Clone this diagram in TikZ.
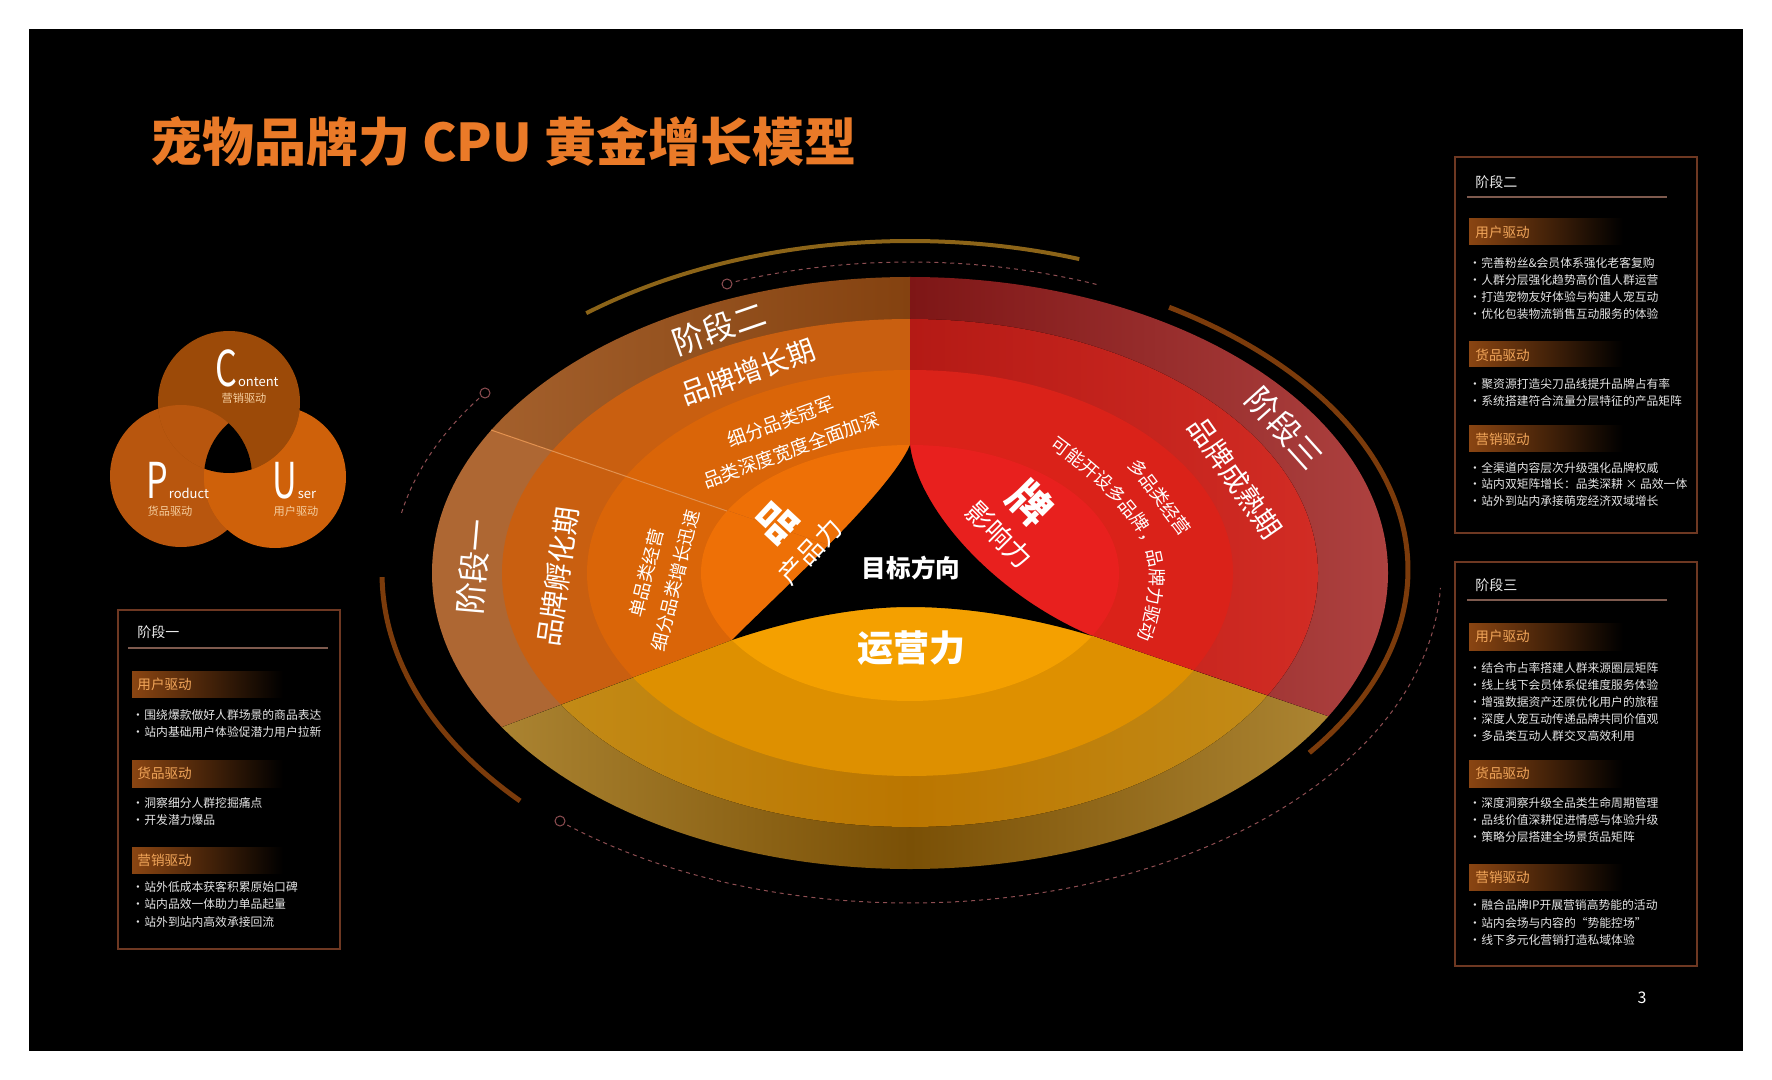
\documentclass[tikz,border=0pt]{standalone}
\usepackage{fontspec}
\setmainfont{Noto Sans CJK SC}
\usetikzlibrary{positioning,decorations.text}

\definecolor{titleorange}{HTML}{EA7A28}
\definecolor{panelline}{HTML}{6E3822}
\definecolor{panelsep}{HTML}{7E5A4E}
\definecolor{barbrown}{HTML}{8A4512}
\definecolor{bartext}{HTML}{F2A65A}
\definecolor{itemtext}{HTML}{E4E4E4}
\definecolor{vennc}{HTML}{9C4A08}
\definecolor{vennp}{HTML}{B8560E}
\definecolor{vennu}{HTML}{CF610A}
\definecolor{venncn}{HTML}{F6CFA0}
\definecolor{stageoneA}{HTML}{AE6733}
\definecolor{stagetwoA}{HTML}{A86430}
\definecolor{stagetwoB}{HTML}{844210}
\definecolor{orangeB}{HTML}{C95F10}
\definecolor{orangeC}{HTML}{DA6508}
\definecolor{orangeD}{HTML}{EE7006}
\definecolor{redA}{HTML}{7E1616}
\definecolor{redAA}{HTML}{AE4240}
\definecolor{redB}{HTML}{B41A15}
\definecolor{redBB}{HTML}{D22C24}
\definecolor{redC}{HTML}{DA2219}
\definecolor{redD}{HTML}{E8201E}
\definecolor{goldA}{HTML}{B38C38}
\definecolor{goldAA}{HTML}{7A5006}
\definecolor{goldB}{HTML}{C48E1A}
\definecolor{goldBB}{HTML}{BB7600}
\definecolor{goldC}{HTML}{DE9000}
\definecolor{goldD}{HTML}{F4A000}
\definecolor{arcgold}{HTML}{8C6418}
\definecolor{arcbrown}{HTML}{7B3B0B}
\definecolor{dashpink}{HTML}{8E4E52}
\definecolor{stageline}{HTML}{E39250}

% the four rings of one sector, outside in
\newcommand{\ringset}[4]{%
  \fill[#1] (ctr) ellipse [x radius=478, y radius=296];
  \fill[#2] (ctr) ellipse [x radius=408, y radius=254];
  \fill[#3] (ctr) ellipse [x radius=323, y radius=203];
  \fill[#4] (ctr) ellipse [x radius=209, y radius=128];}
% narrow bullet for the panel lists
\newcommand{\dotmark}{\makebox[0.6em][c]{•}\hspace{0.25em}}
% tall capital of the C-P-U circles
\newcommand{\tallcap}[1]{\scalebox{0.9}[1.3]{#1}}

\begin{document}
\begin{tikzpicture}[
    x=0.5pt, y=-0.5pt,
    paneltitle/.style={anchor=west, inner sep=0pt, text=white!92!black, font=\fontsize{7}{8}\selectfont},
    bartitle/.style={anchor=west, inner sep=0pt, text=bartext, font=\fontsize{6.8}{8}\selectfont},
    itemtxt/.style={anchor=west, inner sep=0pt, text=itemtext, font=\fontsize{5.9}{7}\selectfont},
    panelbox/.style={draw=panelline, line width=0.6pt},
    panelrule/.style={draw=panelsep, line width=0.75pt},
    barshade/.style={left color=barbrown, right color=black},
    ringlbl/.style={text=white, inner sep=0pt},
    dashline/.style={draw=dashpink, line width=0.5pt, dash pattern=on 2pt off 2pt},
    ringdot/.style={draw=dashpink, line width=0.5pt, fill=black},
    venntxt/.style={text=white, inner sep=0pt, anchor=base west},
    venncap/.style={text=venncn, inner sep=0pt, font=\fontsize{5.6}{6}\selectfont}
]
    \useasboundingbox (0,0) rectangle (1772,1080);
    \fill[white] (0,0) rectangle (1772,1080);
    \fill[black] (29,29) rectangle (1743,1051);

    % title
    \node[anchor=west, inner sep=0pt, text=titleorange, font=\fontsize{26}{28}\selectfont\bfseries] (title) at (150,142) {宠物品牌力 CPU 黄金增长模型};

    % C-P-U circles
    \fill[vennp] (181,476) circle [radius=71];
    \fill[vennu] (275,477) circle [radius=71];
    \fill[vennc] (229,402) circle [radius=71];
    \begin{scope}
        \clip (229,402) circle [radius=71];
        \fill[vennp] (181,476) circle [radius=71];
    \end{scope}
    \begin{scope}
        \clip (275,477) circle [radius=71];
        \fill[vennc] (229,402) circle [radius=71];
    \end{scope}
    \begin{scope}
        \clip (181,476) circle [radius=71];
        \fill[vennu] (275,477) circle [radius=71];
    \end{scope}
    \begin{scope}
        \clip (229,402) circle [radius=71];
        \clip (181,476) circle [radius=71];
        \fill[black] (275,477) circle [radius=71];
    \end{scope}
    \node[venntxt, font=\fontsize{19}{19}\selectfont] (cbig) at (215,387) {\tallcap{C}};
    \node[venntxt, font=\fontsize{6.5}{7}\selectfont] (csmall) at (cbig.base east) {ontent};
    \node[venncap] (cdrive) at (244,398) {营销驱动};
    \node[venntxt, font=\fontsize{19}{19}\selectfont] (pbig) at (146,498) {\tallcap{P}};
    \node[venntxt, font=\fontsize{6.5}{7}\selectfont] (psmall) at (pbig.base east) {roduct};
    \node[venncap] (pdrive) at (170,511) {货品驱动};
    \node[venntxt, font=\fontsize{19}{19}\selectfont] (ubig) at (272,498) {\tallcap{U}};
    \node[venntxt, font=\fontsize{6.5}{7}\selectfont] (usmall) at (ubig.base east) {ser};
    \node[venncap] (udrive) at (296,511) {用户驱动};

    % decorative arcs and dashed tracks
    \draw[arcgold, line width=2pt] (910,573) ++(-128.5:520 and 332) arc[start angle=-128.5, end angle=-71, x radius=520, y radius=332];
    \draw[arcbrown, line width=2.5pt] (880,570) ++(-56.8:528 and 314) arc[start angle=-56.8, end angle=35.6, x radius=528, y radius=314];
    \draw[arcbrown, line width=2.5pt] (910,573) ++(179.3:528 and 338) arc[start angle=179.3, end angle=137.6, x radius=528, y radius=338];
    \draw[dashline] (910,573) ++(-110.4:500 and 311) arc[start angle=-110.4, end angle=-68, x radius=500, y radius=311];
    \draw[ringdot] (727,284) circle [radius=5];
    \draw[dashline] (910,573) ++(-146.3:518 and 315) arc[start angle=-146.3, end angle=-169, x radius=518, y radius=315];
    \draw[ringdot] (485,393) circle [radius=5];
    \draw[dashline] (910,573) ++(130.2:531 and 330) arc[start angle=130.2, end angle=2.6, x radius=531, y radius=330];
    \draw[ringdot] (560,821) circle [radius=5];

    % the ellipse, cut into sectors
    \coordinate (ctr) at (910,573);
    \coordinate (farup) at (910,-60);
    \coordinate (farlt) at (84,291);
    \coordinate (farlb) at (84,885);
    \coordinate (farrt) at (1734,855);
    \begin{scope}
        \clip (ctr) -- (farup) -- (-60,-60) -- (farlt) -- cycle;
        \ringset{left color=stagetwoA, right color=stagetwoB, middle color=stagetwoB}{orangeB}{orangeC}{orangeD}
    \end{scope}
    \begin{scope}
        \clip (ctr) -- (farlt) -- (farlb) -- cycle;
        \ringset{stageoneA}{orangeB}{orangeC}{orangeD}
    \end{scope}
    \begin{scope}
        \clip (ctr) -- (farlb) -- (84,1120) -- (1734,1120) -- (farrt) -- cycle;
        \ringset{left color=goldA, right color=goldA, middle color=goldAA}{left color=goldB, right color=goldB, middle color=goldBB}{goldC}{goldD}
    \end{scope}
    \begin{scope}
        \clip (ctr) -- (farrt) -- (1734,-60) -- (farup) -- cycle;
        \ringset{left color=redA, right color=redAA, middle color=redA}{left color=redB, right color=redBB, middle color=redB}{redC}{redD}
    \end{scope}
    \coordinate (sepout) at (491,430);
    \coordinate (sepin) at (727,511);
    \draw[stageline, line width=0.5pt] (sepout) -- (sepin);

    % target triangle
    \coordinate (apex) at (910,445);
    \coordinate (petL) at (732,640);
    \coordinate (petR) at (1092,636);
    \coordinate (domeTop) at (910,607);
    \fill[black] (apex) .. controls (890,492) and (780,592) .. (petL)
        .. controls (770,627) and (840,607) .. (domeTop)
        .. controls (980,607) and (1050,623) .. (petR)
        .. controls (995,595) and (918,510) .. (apex) -- cycle;

    % ring labels
    \node[ringlbl, rotate=19, font=\fontsize{16}{16}\selectfont] (stagetwo) at (719,328) {阶段二};
    \node[ringlbl, rotate=20, font=\fontsize{14}{14}\selectfont] (growth) at (748,372) {品牌增长期};
    \node[ringlbl, rotate=20, align=center, font=\fontsize{9.3}{15}\selectfont] (growthsub) at (786,436) {细分品类冠军\\品类深度宽度全面加深};
    \node[ringlbl, rotate=85, font=\fontsize{16}{16}\selectfont] (stageone) at (474,567) {阶段一};
    \node[ringlbl, rotate=82, font=\fontsize{14}{14}\selectfont] (incubate) at (558,577) {品牌孵化期};
    \node[ringlbl, rotate=76, align=center, font=\fontsize{9}{15}\selectfont] (incubsub) at (661,577) {单品类经营\\细分品类增长迅速};
    \node[ringlbl, rotate=47, font=\fontsize{20}{20}\selectfont\bfseries] (pinbig) at (777,522) {品};
    \node[ringlbl, rotate=47, font=\fontsize{13}{13}\selectfont] (pinsub) at (810,551) {产品力};
    \node[ringlbl, rotate=-45, font=\fontsize{21}{21}\selectfont\bfseries] (paibig) at (1031,503) {牌};
    \node[ringlbl, rotate=-45, font=\fontsize{13.5}{14}\selectfont] (paisub) at (999,535) {影响力};
    \node[ringlbl, rotate=-48, font=\fontsize{16}{16}\selectfont] (stagethree) at (1285,428) {阶段三};
    \node[ringlbl, rotate=-55, font=\fontsize{14}{14}\selectfont] (mature) at (1235,478) {品牌成熟期};
    \node[ringlbl, rotate=-53, font=\fontsize{9}{9}\selectfont] (multi) at (1160,497) {多品类经营};
    \path[decorate, decoration={text along path, text align=center,
        text={|\fontsize{9}{9}\selectfont\color{white}|可能开设多品牌，品牌力驱动}}]
        (1038,438) .. controls (1108,488) and (1152,530) .. (1150,580) .. controls (1149,605) and (1143,628) .. (1132,652);
    \node[ringlbl, font=\fontsize{12.3}{13}\selectfont\bfseries] (goal) at (911,568) {目标方向};
    \node[ringlbl, font=\fontsize{18}{18}\selectfont\bfseries] (ops) at (911,648) {运营力};

    % panel: stage one
    \draw[panelbox] (118,610) rectangle (340,949);
    \node[paneltitle] (pAtitle) at (137,632) {阶段一};
    \draw[panelrule] (128,648) -- (328,648);
    \shade[barshade] (132,671) rectangle (283,697);
    \node[bartitle] (pAuser) at (137,684) {用户驱动};
    \foreach \txt [count=\i from 0] in {围绕爆款做好人群场景的商品表达, 站内基础用户体验促潜力用户拉新}
        \node[itemtxt] (pAu\i) at (134,715+17.5*\i) {\dotmark\txt};
    \shade[barshade] (132,760) rectangle (283,787);
    \node[bartitle] (pAgoods) at (137,773) {货品驱动};
    \foreach \txt [count=\i from 0] in {洞察细分人群挖掘痛点, 开发潜力爆品}
        \node[itemtxt] (pAg\i) at (134,803+17.5*\i) {\dotmark\txt};
    \shade[barshade] (132,847) rectangle (283,873);
    \node[bartitle] (pAmkt) at (137,860) {营销驱动};
    \foreach \txt [count=\i from 0] in {站外低成本获客积累原始口碑, 站内品效一体助力单品起量, 站外到站内高效承接回流}
        \node[itemtxt] (pAm\i) at (134,887+17.5*\i) {\dotmark\txt};

    % panel: stage two
    \draw[panelbox] (1455,157) rectangle (1697,533);
    \node[paneltitle] (pBtitle) at (1475,182) {阶段二};
    \draw[panelrule] (1467,197) -- (1667,197);
    \shade[barshade] (1469,219) rectangle (1623,245);
    \node[bartitle] (pBuser) at (1475,232) {用户驱动};
    \foreach \txt [count=\i from 0] in {完善粉丝\&会员体系强化老客复购, 人群分层强化趋势高价值人群运营, 打造宠物友好体验与构建人宠互动, 优化包装物流销售互动服务的体验}
        \node[itemtxt] (pBu\i) at (1471,263+17*\i) {\dotmark\txt};
    \shade[barshade] (1469,342) rectangle (1623,367);
    \node[bartitle] (pBgoods) at (1475,355) {货品驱动};
    \foreach \txt [count=\i from 0] in {聚资源打造尖刀品线提升品牌占有率, 系统搭建符合流量分层特征的产品矩阵}
        \node[itemtxt] (pBg\i) at (1471,384+17*\i) {\dotmark\txt};
    \shade[barshade] (1469,426) rectangle (1623,452);
    \node[bartitle] (pBmkt) at (1475,439) {营销驱动};
    \foreach \txt [count=\i from 0] in {全渠道内容层次升级强化品牌权威, 站内双矩阵增长：品类深耕 × 品效一体, 站外到站内承接萌宠经济双域增长}
        \node[itemtxt] (pBm\i) at (1471,468+16.5*\i) {\dotmark\txt};

    % panel: stage three
    \draw[panelbox] (1455,562) rectangle (1697,966);
    \node[paneltitle] (pCtitle) at (1475,585) {阶段三};
    \draw[panelrule] (1467,600) -- (1667,600);
    \shade[barshade] (1469,623) rectangle (1623,650);
    \node[bartitle] (pCuser) at (1475,636) {用户驱动};
    \foreach \txt [count=\i from 0] in {结合市占率搭建人群来源圈层矩阵, 线上线下会员体系促维度服务体验, 增强数据资产还原优化用户的旅程, 深度人宠互动传递品牌共同价值观, 多品类互动人群交叉高效利用}
        \node[itemtxt] (pCu\i) at (1471,668+17*\i) {\dotmark\txt};
    \shade[barshade] (1469,760) rectangle (1623,787);
    \node[bartitle] (pCgoods) at (1475,773) {货品驱动};
    \foreach \txt [count=\i from 0] in {深度洞察升级全品类生命周期管理, 品线价值深耕促进情感与体验升级, 策略分层搭建全场景货品矩阵}
        \node[itemtxt] (pCg\i) at (1471,803+17*\i) {\dotmark\txt};
    \shade[barshade] (1469,864) rectangle (1623,890);
    \node[bartitle] (pCmkt) at (1475,877) {营销驱动};
    \foreach \txt [count=\i from 0] in {融合品牌IP开展营销高势能的活动, 站内会场与内容的“势能控场”, 线下多元化营销打造私域体验}
        \node[itemtxt] (pCm\i) at (1471,905+17.5*\i) {\dotmark\txt};

    \node[text=white, inner sep=0pt, font=\fontsize{8}{8}\selectfont] (pageno) at (1642,998) {3};
\end{tikzpicture}
\end{document}
